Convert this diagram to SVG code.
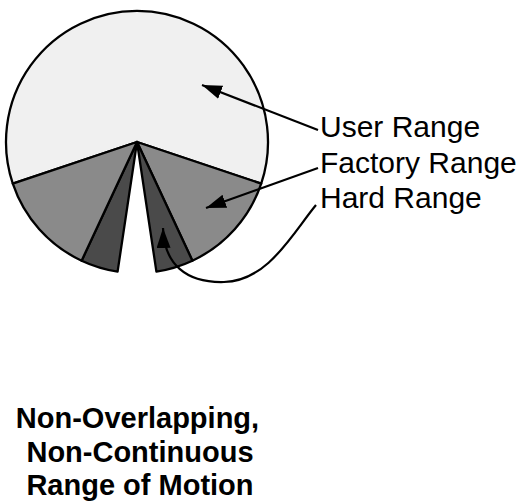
<svg xmlns="http://www.w3.org/2000/svg" width="523" height="503" viewBox="0 0 523 503">
<defs>
<style>
.sl{stroke:#000;stroke-width:2.3;stroke-linejoin:round}
.user{fill:#f0f0f0}
.fac{fill:#8a8a8a}
.hard{fill:#4a4a4a}
.con{fill:none;stroke:#000;stroke-width:2.2}
.lbl{font-family:"Liberation Sans",Arial,sans-serif;font-size:30px;fill:#000}
.ttl{font-family:"Liberation Sans",Arial,sans-serif;font-size:29px;font-weight:bold;fill:#000;text-anchor:middle}
</style>
<marker id="ah" markerUnits="userSpaceOnUse" markerWidth="22" markerHeight="16" refX="20" refY="7" orient="auto">
<path d="M0,0 L20,7 L0,14 Z" fill="#000"/>
</marker>
</defs>
<rect width="523" height="503" fill="#fff"/>
<g id="pie">
<g id="user-range"><path class="sl user" d="M137,142 L12.8,183.6 A131,131 0 1 1 261.2,183.6 Z"/></g>
<g id="factory-right"><path class="sl fac" d="M137,142 L261.2,183.6 A131,131 0 0 1 192.4,260.7 Z"/></g>
<g id="hard-right"><path class="sl hard" d="M137,142 L192.4,260.7 A131,131 0 0 1 156.4,271.6 Z"/></g>
<g id="hard-left"><path class="sl hard" d="M137,142 L117.6,271.6 A131,131 0 0 1 81.6,260.7 Z"/></g>
<g id="factory-left"><path class="sl fac" d="M137,142 L81.6,260.7 A131,131 0 0 1 12.8,183.6 Z"/></g>
</g>
<g id="connectors">
<path class="con" marker-end="url(#ah)" d="M318,130 L202,85"/>
<path class="con" marker-end="url(#ah)" d="M318,168 L206,208"/>
<path class="con" marker-end="url(#ah)" d="M316,205 C292,234 268,281 224,282 C186,283 164,264 163,228"/>
</g>
<g id="labels">
<text class="lbl" x="320" y="137">User Range</text>
<text class="lbl" x="320" y="173">Factory Range</text>
<text class="lbl" x="320" y="208">Hard Range</text>
</g>
<g id="title">
<text class="ttl" x="137.5" y="428">Non-Overlapping,</text>
<text class="ttl" x="140" y="462">Non-Continuous</text>
<text class="ttl" x="140" y="495">Range of Motion</text>
</g>
</svg>
